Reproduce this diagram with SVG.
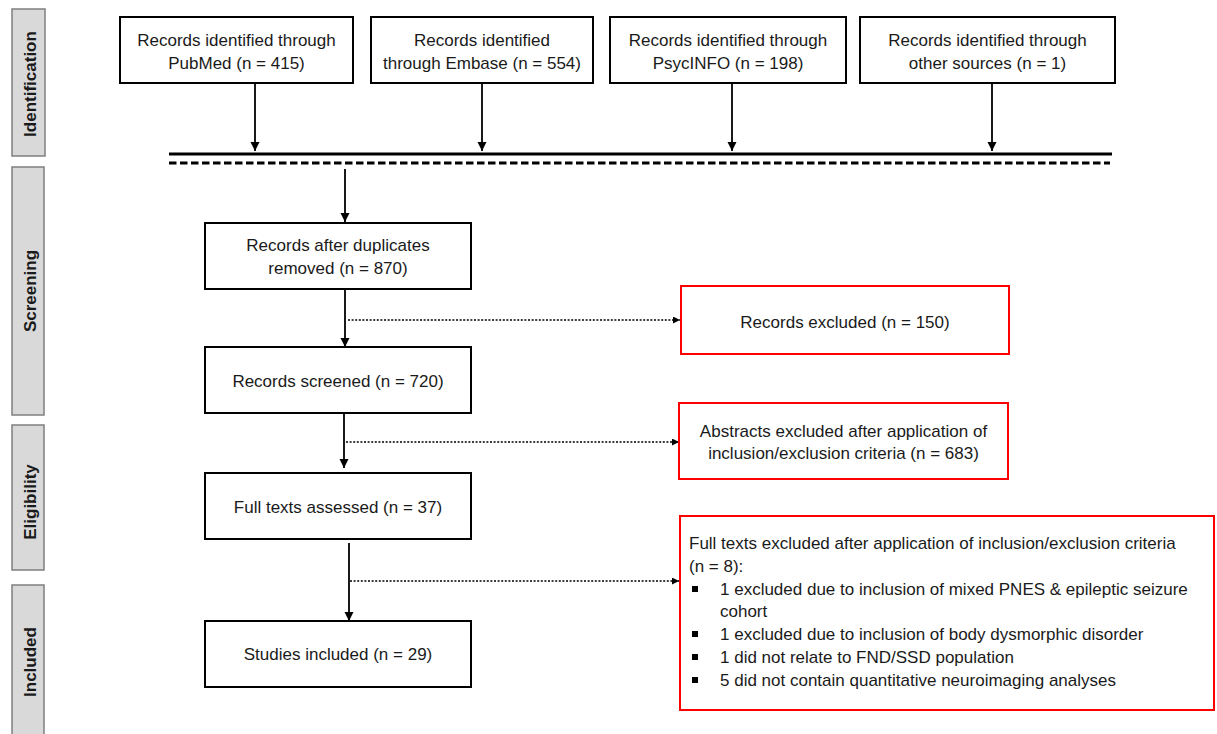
<svg xmlns="http://www.w3.org/2000/svg" width="1217" height="734" viewBox="0 0 1217 734">
<style>
.box{fill:#fff;stroke:#000;stroke-width:2}
.rbox{fill:#fff;stroke:#ff0000;stroke-width:2}
.side{fill:#d9d9d9;stroke:#7f7f7f;stroke-width:1.5}
.t{font-family:"Liberation Sans",Arial,sans-serif;font-size:17px;fill:#1a1a1a}
.c{text-anchor:middle}
.st{font-family:"Liberation Sans",Arial,sans-serif;font-size:17px;font-weight:bold;fill:#1a1a1a;text-anchor:middle}
.arr{stroke:#000;stroke-width:1.8;fill:none}
.dot{stroke:#000;stroke-width:1.5;stroke-dasharray:2 1.6;fill:none}
</style>
<defs>
<marker id="ah" markerUnits="userSpaceOnUse" markerWidth="10" markerHeight="10" refX="9" refY="4.5" orient="auto">
<path d="M0,0 L9,4.5 L0,9 z" fill="#000"/>
</marker>
<marker id="ahs" markerUnits="userSpaceOnUse" markerWidth="8" markerHeight="8" refX="7" refY="3.5" orient="auto">
<path d="M0,0 L7,3.5 L0,7 z" fill="#000"/>
</marker>
</defs>
<rect width="1217" height="734" fill="#fff"/>

<g id="phase-identification"><rect class="side" x="12" y="9" width="33" height="147"/><text class="st" transform="translate(36,84) rotate(-90)">Identification</text></g>
<g id="phase-screening"><rect class="side" x="12" y="167" width="32" height="248"/><text class="st" transform="translate(36,291) rotate(-90)">Screening</text></g>
<g id="phase-eligibility"><rect class="side" x="12" y="425" width="32" height="145"/><text class="st" transform="translate(36,502) rotate(-90)">Eligibility</text></g>
<g id="phase-included"><rect class="side" x="12" y="585" width="32" height="160"/><text class="st" transform="translate(36,662) rotate(-90)">Included</text></g>

<g id="connectors">
<line class="arr" x1="255" y1="84" x2="255" y2="151" marker-end="url(#ah)"/>
<line class="arr" x1="482" y1="84" x2="482" y2="151" marker-end="url(#ah)"/>
<line class="arr" x1="732" y1="84" x2="732" y2="151" marker-end="url(#ah)"/>
<line class="arr" x1="992" y1="84" x2="992" y2="151" marker-end="url(#ah)"/>
<line x1="169" y1="154" x2="1112" y2="154" stroke="#000" stroke-width="3"/>
<line x1="169" y1="163" x2="1110" y2="163" stroke="#000" stroke-width="3" stroke-dasharray="7.5 3.5"/>
<line class="arr" x1="345" y1="169" x2="345" y2="222" marker-end="url(#ah)"/>
<line class="arr" x1="345" y1="290" x2="345" y2="347" marker-end="url(#ah)"/>
<line class="arr" x1="344" y1="414" x2="344" y2="468" marker-end="url(#ah)"/>
<line class="arr" x1="349" y1="543" x2="349" y2="621" marker-end="url(#ah)"/>
<line class="dot" x1="348" y1="320" x2="680" y2="320" marker-end="url(#ahs)"/>
<line class="dot" x1="346" y1="442" x2="679" y2="442" marker-end="url(#ahs)"/>
<line class="dot" x1="350" y1="581" x2="679" y2="581" marker-end="url(#ahs)"/>
</g>

<g id="pubmed"><rect class="box" x="120" y="17" width="233" height="66"/>
<text class="t c" x="236.5" y="46">Records identified through</text>
<text class="t c" x="236.5" y="69">PubMed (n = 415)</text></g>
<g id="embase"><rect class="box" x="371" y="17" width="222" height="66"/>
<text class="t c" x="482" y="46">Records identified</text>
<text class="t c" x="482" y="69">through Embase (n = 554)</text></g>
<g id="psycinfo"><rect class="box" x="610" y="17" width="236" height="66"/>
<text class="t c" x="728" y="46">Records identified through</text>
<text class="t c" x="728" y="69">PsycINFO (n = 198)</text></g>
<g id="other"><rect class="box" x="860" y="17" width="255" height="66"/>
<text class="t c" x="987.5" y="46">Records identified through</text>
<text class="t c" x="987.5" y="69">other sources (n = 1)</text></g>

<g id="duplicates"><rect class="box" x="205" y="223" width="266" height="66"/>
<text class="t c" x="338" y="251">Records after duplicates</text>
<text class="t c" x="338" y="274">removed (n = 870)</text></g>
<g id="screened"><rect class="box" x="205" y="347" width="266" height="66"/>
<text class="t c" x="338" y="387">Records screened (n = 720)</text></g>
<g id="fulltexts"><rect class="box" x="205" y="473" width="266" height="66"/>
<text class="t c" x="338" y="513">Full texts assessed (n = 37)</text></g>
<g id="included"><rect class="box" x="205" y="621" width="266" height="66"/>
<text class="t c" x="338" y="660">Studies included (n = 29)</text></g>

<g id="records-excluded"><rect class="rbox" x="681" y="286" width="328" height="68"/>
<text class="t c" x="845" y="328">Records excluded (n = 150)</text></g>
<g id="abstracts-excluded"><rect class="rbox" x="679" y="403" width="329" height="76"/>
<text class="t c" x="843.5" y="437">Abstracts excluded after application of</text>
<text class="t c" x="843.5" y="459">inclusion/exclusion criteria (n = 683)</text></g>
<g id="fulltexts-excluded"><rect class="rbox" x="680" y="516" width="534" height="194"/>
<text class="t" x="689" y="549">Full texts excluded after application of inclusion/exclusion criteria</text>
<text class="t" x="689" y="572">(n = 8):</text>
<rect x="692" y="586" width="6" height="6" fill="#000"/>
<text class="t" x="720" y="595">1 excluded due to inclusion of mixed PNES &amp; epileptic seizure</text>
<text class="t" x="720" y="617">cohort</text>
<rect x="692" y="631" width="6" height="6" fill="#000"/>
<text class="t" x="720" y="640">1 excluded due to inclusion of body dysmorphic disorder</text>
<rect x="692" y="654" width="6" height="6" fill="#000"/>
<text class="t" x="720" y="663">1 did not relate to FND/SSD population</text>
<rect x="692" y="677" width="6" height="6" fill="#000"/>
<text class="t" x="720" y="686">5 did not contain quantitative neuroimaging analyses</text></g>
</svg>
